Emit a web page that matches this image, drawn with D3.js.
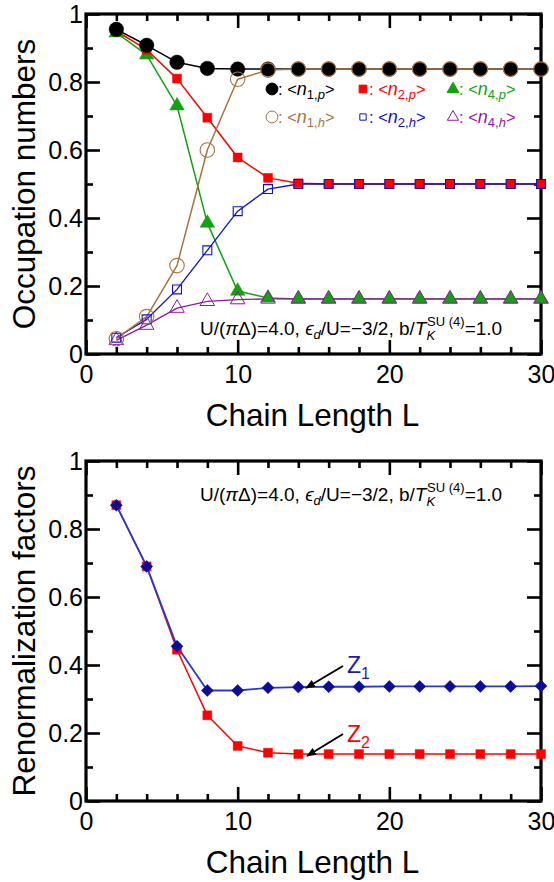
<!DOCTYPE html>
<html><head><meta charset="utf-8">
<script src="https://cdn.jsdelivr.net/npm/d3@7"></script>
<style>
body{margin:0;background:#fff;}
svg{display:block;}
svg text{font-family:"Liberation Sans",Arial,sans-serif;}
</style></head>
<body><svg id="c" width="554" height="882"></svg>
<script>
const L = [2,4,6,8,10,12,14,16,18,20,22,24,26,28,30];
const n1p = [0.955,0.908,0.858,0.840,0.838,0.838,0.838,0.838,0.838,0.838,0.838,0.838,0.838,0.838,0.838];
const n2p = [0.950,0.895,0.810,0.695,0.578,0.518,0.502,0.500,0.500,0.500,0.500,0.500,0.500,0.500,0.500];
const n4p = [0.945,0.880,0.730,0.385,0.185,0.165,0.162,0.162,0.162,0.162,0.162,0.162,0.162,0.162,0.162];
const n1h = [0.045,0.110,0.260,0.600,0.808,0.835,0.838,0.838,0.838,0.838,0.838,0.838,0.838,0.838,0.838];
const n2h = [0.048,0.102,0.190,0.305,0.420,0.485,0.500,0.500,0.500,0.500,0.500,0.500,0.500,0.500,0.500];
const n4h = [0.040,0.085,0.135,0.155,0.160,0.162,0.162,0.162,0.162,0.162,0.162,0.162,0.162,0.162,0.162];
const Z1 = [0.870,0.690,0.455,0.325,0.325,0.333,0.335,0.336,0.336,0.337,0.337,0.337,0.337,0.337,0.338];
const Z2 = [0.870,0.690,0.445,0.252,0.162,0.142,0.138,0.138,0.138,0.138,0.138,0.138,0.138,0.138,0.138];
const xTicks = [0,10,20,30];
const yTicks = [0,0.2,0.4,0.6,0.8,1];

const FONT = '"Liberation Sans", Arial, sans-serif';
const svg = d3.select("#c");
const x = d3.scaleLinear([0,30],[86,541]);
const yA = d3.scaleLinear([0,1],[354,14]);
const yB = d3.scaleLinear([0,1],[801,461]);

function frame(y, yLabel){
  const g = svg.append("g");
  const top = y(1), bot = y(0);
  const minorX = d3.range(0,31,2).filter(v=>v%10!==0);
  const minorY = d3.range(0.1,1,0.2).map(v=>+v.toFixed(1));
  const style = s => { s.attr("font-family",FONT); s.select(".domain").remove(); s.selectAll("line").attr("stroke","#000").attr("stroke-width",2.6);
    s.selectAll("text").attr("font-size",25).attr("fill","#000"); };
  g.append("g").attr("transform",`translate(0,${bot})`).call(d3.axisBottom(x).tickValues(xTicks).tickSize(-14).tickPadding(11).tickFormat(d3.format("d"))).call(style);
  g.append("g").attr("transform",`translate(0,${bot})`).call(d3.axisBottom(x).tickValues(minorX).tickSize(-7).tickFormat("")).call(style);
  g.append("g").attr("transform",`translate(0,${top})`).call(d3.axisTop(x).tickValues(xTicks).tickSize(-14).tickFormat("")).call(style);
  g.append("g").attr("transform",`translate(0,${top})`).call(d3.axisTop(x).tickValues(minorX).tickSize(-7).tickFormat("")).call(style);
  g.append("g").attr("transform",`translate(${x(0)},0)`).call(d3.axisLeft(y).tickValues(yTicks).tickSize(-14).tickPadding(3).tickFormat(d=>d===0||d===1?String(d):d3.format(".1f")(d))).call(style);
  g.append("g").attr("transform",`translate(${x(0)},0)`).call(d3.axisLeft(y).tickValues(minorY).tickSize(-7).tickFormat("")).call(style);
  g.append("g").attr("transform",`translate(${x(30)},0)`).call(d3.axisRight(y).tickValues(yTicks).tickSize(-14).tickFormat("")).call(style);
  g.append("g").attr("transform",`translate(${x(30)},0)`).call(d3.axisRight(y).tickValues(minorY).tickSize(-7).tickFormat("")).call(style);
  g.append("rect").attr("x",x(0)).attr("y",top).attr("width",x(30)-x(0)).attr("height",bot-top)
    .attr("fill","none").attr("stroke","#000").attr("stroke-width",3.2);
  g.append("text").attr("x",(x(0)+x(30))/2 - 1).attr("y",bot+72).attr("text-anchor","middle")
    .attr("font-size",31.5).text("Chain Length L");
  g.append("text").attr("transform",`translate(35,${(top+bot)/2}) rotate(-90)`).attr("text-anchor","middle")
    .attr("font-size",31.5).text(yLabel);
}

function series(y, vals, color, lw){
  const line = d3.line().x((d,i)=>x(L[i])).y(d=>y(d));
  svg.append("path").attr("d",line(vals)).attr("fill","none").attr("stroke",color).attr("stroke-width",lw).attr("stroke-linejoin","round");
}
function markers(y, vals, type, size, fill, stroke, sw, rot){
  svg.append("g").selectAll("path").data(vals).join("path")
    .attr("transform",(d,i)=>`translate(${x(L[i])},${y(d)})` + (rot?` rotate(${rot})`:""))
    .attr("d",d3.symbol().type(type).size(size))
    .attr("fill",fill).attr("stroke",stroke).attr("stroke-width",sw);
}

const cBlack="#000", cRed="#ff0000", cGreen="#13a013", cBrown="#a8733f", cBlue="#1010c8", cPurple="#8e1aa0";

// ---------- top panel ----------
frame(yA, "Occupation numbers");
series(yA, n4p, cGreen, 1.5);
series(yA, n2p, cRed, 1.5);
series(yA, n1p, cBlack, 1.5);
series(yA, n4h, cPurple, 1.3);
series(yA, n2h, cBlue, 1.3);
series(yA, n1h, cBrown, 1.5);
markers(yA, n4p, d3.symbolTriangle, 92, cGreen, cGreen, 0.5);
markers(yA, n2p, d3.symbolSquare, 80, cRed, cRed, 0.5);
markers(yA, n1p, d3.symbolCircle, 165, cBlack, cBlack, 0.5);
markers(yA, n4h, d3.symbolTriangle, 92, "none", cPurple, 1);
markers(yA, n2h, d3.symbolSquare, 80, "none", cBlue, 1.1);
markers(yA, n1h, d3.symbolCircle, 165, "none", cBrown, 1.1);

// legend
const leg = [
  {t:d3.symbolCircle, s:110, f:cBlack, st:cBlack, c:cBlack, sub:"1", sp:"p", col:0, row:0},
  {t:d3.symbolSquare, s:60, f:cRed, st:cRed, c:cRed, sub:"2", sp:"p", col:1, row:0},
  {t:d3.symbolTriangle, s:60, f:cGreen, st:cGreen, c:cGreen, sub:"4", sp:"p", col:2, row:0},
  {t:d3.symbolCircle, s:110, f:"none", st:cBrown, c:cBrown, sub:"1", sp:"h", col:0, row:1},
  {t:d3.symbolSquare, s:40, f:"none", st:cBlue, c:cBlue, sub:"2", sp:"h", col:1, row:1},
  {t:d3.symbolTriangle, s:55, f:"none", st:cPurple, c:cPurple, sub:"4", sp:"h", col:2, row:1}
];
const legX = [272, 363, 453], legY = [89, 117];
leg.forEach(d=>{
  const mx = legX[d.col], my = legY[d.row];
  svg.append("path").attr("transform",`translate(${mx},${my})`).attr("d",d3.symbol().type(d.t).size(d.s))
    .attr("fill",d.f).attr("stroke",d.st).attr("stroke-width",1);
  const t = svg.append("text").attr("x",mx+6).attr("y",my+6).attr("font-size",16.5).attr("fill",d.c);
  t.append("tspan").text(": <");
  t.append("tspan").attr("font-style","italic").attr("font-size",18).text("n");
  t.append("tspan").attr("font-size",13).attr("dy",4).text(d.sub+",");
  t.append("tspan").attr("font-size",13).attr("font-style","italic").text(d.sp);
  t.append("tspan").attr("dy",-4).text(">");
});

function annot(xx, yy){
  const t = svg.append("text").attr("x",xx).attr("y",yy).attr("font-size",19).attr("fill","#000");
  t.append("tspan").text("U/(");
  t.append("tspan").attr("font-style","italic").text("π");
  t.append("tspan").text("Δ)=4.0, ");
  t.append("tspan").attr("font-style","italic").text("ϵ");
  t.append("tspan").attr("font-style","italic").attr("font-size",13).attr("dy",4).text("d");
  t.append("tspan").attr("dy",-4).text("/U=−3/2, b/");
  t.append("tspan").attr("font-style","italic").text("T");
  t.append("tspan").attr("font-style","italic").attr("font-size",13).attr("dy",5).text("K");
  t.append("tspan").attr("font-size",13).attr("dx",-8).attr("dy",-14).text("SU (4)");
  t.append("tspan").attr("dy",9).text("=1.0");
}
annot(200, 335);

// ---------- bottom panel ----------
frame(yB, "Renormalization factors");
series(yB, Z2, cRed, 1.5);
series(yB, Z1, "#2a3ac8", 1.8);
markers(yB, Z2, d3.symbolSquare, 80, cRed, cRed, 0.5);
markers(yB, Z1, d3.symbolSquare, 72, "#0c0c9c", "#0c0c9c", 0.5, 45);
annot(200, 501);

// Z labels & arrows
svg.append("defs").append("marker").attr("id","ah").attr("viewBox","0 0 10 10").attr("refX",9).attr("refY",5)
  .attr("markerWidth",10).attr("markerHeight",10).attr("orient","auto").attr("markerUnits","userSpaceOnUse")
  .append("path").attr("d","M0,1 L10,5 L0,9 Z").attr("fill","#000");
function zlabel(xx, yy, sub, color, ax1, ay1, ax2, ay2){
  const t = svg.append("text").attr("x",xx).attr("y",yy).attr("font-size",23).attr("fill",color);
  t.append("tspan").text("Z");
  t.append("tspan").attr("font-size",16).attr("dy",6).text(sub);
  svg.append("line").attr("x1",ax1).attr("y1",ay1).attr("x2",ax2).attr("y2",ay2)
    .attr("stroke","#000").attr("stroke-width",2).attr("marker-end","url(#ah)");
}
zlabel(347, 673, "1", "#1a1ab4", 343, 666, 306, 688);
zlabel(347, 742, "2", cRed, 343, 734, 307, 756);
</script></body></html>
